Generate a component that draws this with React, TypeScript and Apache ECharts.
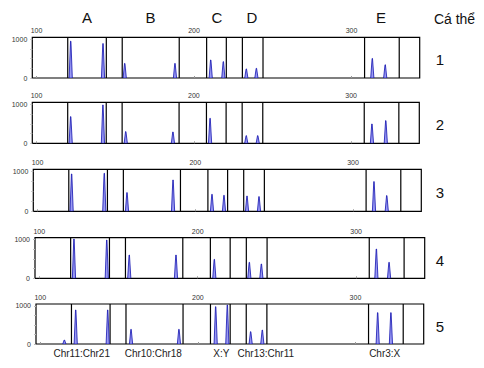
import React, { useEffect, useRef } from "react";
import * as echarts from "echarts";

// ---- data ----
const regionLetters = ["A", "B", "C", "D", "E"];
const pairLabels = ["Chr11:Chr21", "Chr10:Chr18", "X:Y", "Chr13:Chr11", "Chr3:X"];
const individuals = ["1", "2", "3", "4", "5"];
const headerLabel = "Cá thể";
const xTickValues = [100, 200, 300];
const yTickLabels = [0, 1000];
const yMinorTicks = [0, 250, 500, 750, 1000];

// region boundaries (bp)
const boundaries = [119.8, 144.3, 154.4, 190.6, 208, 220.5, 230.7, 243.8, 308.3, 330.3];

// peaks: [size (bp), height (RFU)]
const peaks1 = [[121.7, 950], [142.2, 888], [156, 376], [187.9, 376], [210.6, 465], [218.6, 422], [233.2, 235], [239.6, 250], [313.2, 504], [321.4, 341]];
const peaks2 = [[121.7, 683], [142.2, 982], [156.7, 299], [186.7, 290], [210.3, 640], [233.3, 196], [240.6, 196], [313.2, 495], [322, 580]];
const peaks3 = [[121.6, 933], [142.3, 950], [156.7, 467], [185.9, 783], [210.6, 425], [218.2, 400], [232.8, 383], [240.4, 367], [313.3, 742], [321.4, 392]];
const peaks4 = [[121.9, 1016], [142.6, 990], [156.8, 602], [186.3, 602], [210.5, 490], [232.6, 413], [240.2, 370], [312.8, 757], [320.8, 413]];
const peaks5 = [[115.3, 105], [122.5, 893], [142.8, 893], [157.6, 385], [188, 385], [211.3, 979], [218.7, 1024], [233.5, 323], [240.9, 367], [314.1, 822], [322.5, 822]];
const allPeaks = [peaks1, peaks2, peaks3, peaks4, peaks5];

const X_MIN = 97.3;
const X_MAX = 343.3;
const Y_MAX = 1050;

// ---- layout ----
const panelBoxes = [
  { left: 32.3, top: 37.3, width: 387.4, height: 40.7 },
  { left: 32.3, top: 102.3, width: 387, height: 41 },
  { left: 33.3, top: 169.3, width: 388, height: 42 },
  { left: 35, top: 237.7, width: 389.7, height: 40.6 },
  { left: 36, top: 304, width: 387.7, height: 40 },
];
const letterX = [87, 150.5, 217, 252, 381];
const pairX = [81.7, 153.3, 221.3, 265.8, 384.7];
const FONT = "Arial, 'Liberation Sans', sans-serif";

export default function App() {
  const ref = useRef<HTMLDivElement>(null);
  useEffect(() => {
    if (!ref.current) return;
    const chart = echarts.init(ref.current, null, { renderer: "svg" });
    const grids: any[] = [];
    const xAxes: any[] = [];
    const yAxes: any[] = [];
    const series: any[] = [];
    panelBoxes.forEach((b, i) => {
      grids.push({
        left: b.left, top: b.top, width: b.width, height: b.height,
        show: true, borderColor: "#000", borderWidth: 1.2, backgroundColor: "transparent",
      });
      xAxes.push({
        type: "value", gridIndex: i, min: X_MIN, max: X_MAX, position: "top",
        axisLine: { show: false }, splitLine: { show: false },
        axisTick: { show: true, length: 2, customValues: xTickValues, lineStyle: { color: "#999" } },
        axisLabel: {
          customValues: xTickValues, fontSize: 7, color: "#333", margin: 3, fontFamily: FONT,
          formatter: (v: number) => String(v),
        },
      });
      yAxes.push({
        type: "value", gridIndex: i, min: 0, max: Y_MAX,
        axisLine: { show: false }, splitLine: { show: false },
        axisTick: { show: true, length: 2, customValues: yMinorTicks, lineStyle: { color: "#bbb" } },
        axisLabel: {
          customValues: yTickLabels, fontSize: 7, color: "#333", margin: 5, fontFamily: FONT,
          formatter: (v: number) => String(v),
        },
      });
      series.push({
        type: "custom", xAxisIndex: i, yAxisIndex: i, clip: true,
        encode: { x: 0, y: 1 },
        data: boundaries.map((v) => [v, 0]),
        renderItem: (_p: any, api: any) => {
          const x = api.value(0);
          const a = api.coord([x, 0]);
          const c = api.coord([x, Y_MAX]);
          return {
            type: "line",
            shape: { x1: a[0], y1: a[1], x2: c[0], y2: c[1] },
            style: { stroke: "#000", lineWidth: 1.2 },
          };
        },
      });
      series.push({
        type: "custom", xAxisIndex: i, yAxisIndex: i, clip: true,
        encode: { x: 0, y: 1 },
        data: allPeaks[i],
        renderItem: (_p: any, api: any) => {
          const x = api.value(0);
          const h = api.value(1);
          const t = api.coord([x, h]);
          const base = api.coord([x, 0]);
          const w = 1.6;
          return {
            type: "polygon",
            shape: {
              points: [
                [base[0] - w, base[1]],
                [t[0] - 0.2, t[1]],
                [t[0] + 0.2, t[1]],
                [base[0] + w, base[1]],
              ],
            },
            style: { fill: "#9a9af2", stroke: "#1212b0", lineWidth: 0.8 },
          };
        },
      });
    });

    const graphics: any[] = [];
    regionLetters.forEach((l, i) => {
      graphics.push({
        type: "text", x: letterX[i], y: 17,
        style: { text: l, font: `15px ${FONT}`, fill: "#111", align: "center", verticalAlign: "middle" },
      });
    });
    graphics.push({
      type: "text", x: 454.5, y: 19,
      style: { text: headerLabel, font: `14px ${FONT}`, fill: "#111", align: "center", verticalAlign: "middle" },
    });
    individuals.forEach((n, i) => {
      const b = panelBoxes[i];
      graphics.push({
        type: "text", x: 440, y: b.top + b.height / 2 + 2,
        style: { text: n, font: `15px ${FONT}`, fill: "#111", align: "center", verticalAlign: "middle" },
      });
    });
    pairLabels.forEach((l, i) => {
      graphics.push({
        type: "text", x: pairX[i], y: 353,
        style: { text: l, font: `10px ${FONT}`, fill: "#222", align: "center", verticalAlign: "middle" },
      });
    });

    chart.setOption({
      animation: false,
      backgroundColor: "#fff",
      grid: grids,
      xAxis: xAxes,
      yAxis: yAxes,
      series,
      graphic: graphics,
    });
    return () => chart.dispose();
  }, []);
  return (
    <div
      ref={ref}
      style={{ position: "fixed", left: 0, top: 0, width: 484, height: 368 }}
    />
  );
}
